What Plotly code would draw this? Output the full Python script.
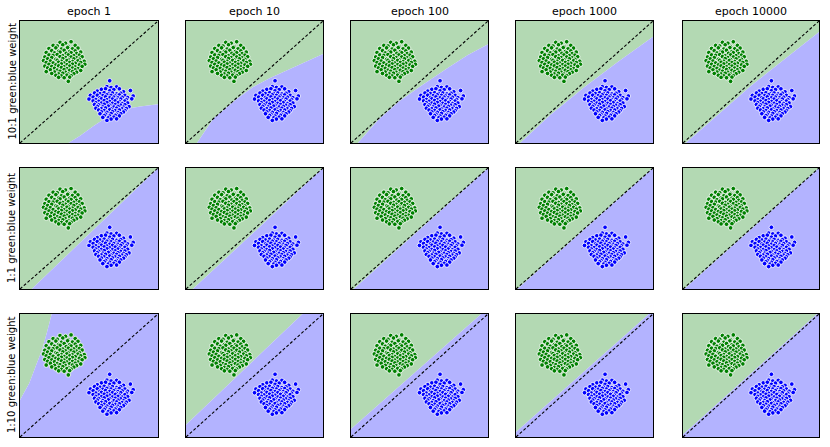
import plotly.graph_objects as go
from plotly.subplots import make_subplots

# ---------------- data ----------------
epochs = ["epoch 1", "epoch 10", "epoch 100", "epoch 1000", "epoch 10000"]
row_labels = ["10:1 green:blue weight", "1:1 green:blue weight", "1:10 green:blue weight"]

green_x = [0.29, 0.33, 0.37,
           0.24, 0.27, 0.31, 0.35, 0.40,
           0.21, 0.26, 0.30, 0.345, 0.38, 0.42,
           0.23, 0.28, 0.32, 0.36, 0.40,
           0.19, 0.25, 0.29, 0.335, 0.37, 0.41, 0.44,
           0.21, 0.24, 0.27, 0.31, 0.35, 0.39, 0.43,
           0.18, 0.23, 0.29, 0.33, 0.37, 0.41, 0.45,
           0.20, 0.26, 0.31, 0.35, 0.39, 0.43,
           0.17, 0.22, 0.27, 0.30, 0.34, 0.38, 0.42, 0.465,
           0.19, 0.24, 0.28, 0.32, 0.36, 0.40, 0.44,
           0.21, 0.26, 0.30, 0.34, 0.38, 0.43, 0.47,
           0.18, 0.23, 0.28, 0.32, 0.36, 0.40, 0.45,
           0.20, 0.25, 0.30, 0.34, 0.38, 0.42,
           0.22, 0.27, 0.32, 0.36, 0.40, 0.44,
           0.19, 0.25, 0.29, 0.33, 0.38, 0.41,
           0.23, 0.28, 0.31, 0.35, 0.39,
           0.26, 0.30, 0.34, 0.37,
           0.28, 0.32, 0.36,
           0.35]
green_y = [0.825, 0.818, 0.83,
           0.80, 0.795, 0.805, 0.79, 0.80,
           0.775, 0.78, 0.77, 0.782, 0.772, 0.778,
           0.757, 0.752, 0.76, 0.75, 0.755,
           0.742, 0.738, 0.745, 0.735, 0.74, 0.733, 0.745,
           0.722, 0.718, 0.725, 0.715, 0.722, 0.716, 0.72,
           0.705, 0.70, 0.708, 0.70, 0.705, 0.698, 0.707,
           0.69, 0.686, 0.692, 0.684, 0.69, 0.686,
           0.675, 0.672, 0.678, 0.67, 0.676, 0.668, 0.674, 0.67,
           0.66, 0.656, 0.662, 0.655, 0.66, 0.654, 0.66,
           0.645, 0.64, 0.648, 0.642, 0.646, 0.64, 0.645,
           0.63, 0.627, 0.632, 0.625, 0.63, 0.624, 0.628,
           0.615, 0.612, 0.618, 0.61, 0.614, 0.61,
           0.60, 0.597, 0.602, 0.596, 0.60, 0.594,
           0.585, 0.582, 0.588, 0.58, 0.585, 0.58,
           0.57, 0.566, 0.572, 0.565, 0.568,
           0.555, 0.55, 0.556, 0.552,
           0.538, 0.535, 0.54,
           0.505]

blue_x = [0.65,
          0.63, 0.66, 0.70,
          0.59, 0.62, 0.68, 0.72,
          0.56, 0.65, 0.75, 0.80,
          0.54, 0.58, 0.61, 0.64, 0.67, 0.70, 0.73,
          0.51, 0.56, 0.60, 0.63, 0.66, 0.69, 0.72, 0.76, 0.82,
          0.53, 0.58, 0.62, 0.65, 0.68, 0.71, 0.74, 0.78,
          0.50, 0.55, 0.59, 0.63, 0.67, 0.70, 0.73, 0.77, 0.81,
          0.53, 0.57, 0.61, 0.65, 0.69, 0.72, 0.76,
          0.55, 0.59, 0.63, 0.67, 0.71, 0.74, 0.78,
          0.54, 0.57, 0.61, 0.65, 0.69, 0.73, 0.76,
          0.56, 0.60, 0.64, 0.68, 0.71, 0.75, 0.79,
          0.55, 0.59, 0.62, 0.66, 0.70, 0.74, 0.77,
          0.57, 0.61, 0.65, 0.69, 0.72, 0.76,
          0.59, 0.63, 0.67, 0.71, 0.75,
          0.58, 0.62, 0.66, 0.70, 0.73,
          0.61, 0.65, 0.69, 0.72,
          0.60, 0.64, 0.68,
          0.66, 0.70,
          0.63]
blue_y = [0.51,
          0.462, 0.455, 0.46,
          0.44, 0.445, 0.438, 0.444,
          0.425, 0.428, 0.42, 0.43,
          0.41, 0.405, 0.412, 0.404, 0.41, 0.402, 0.408,
          0.39, 0.392, 0.388, 0.395, 0.39, 0.386, 0.394, 0.39, 0.385,
          0.376, 0.372, 0.378, 0.37, 0.376, 0.37, 0.375, 0.372,
          0.36, 0.357, 0.362, 0.355, 0.36, 0.354, 0.36, 0.356, 0.362,
          0.345, 0.342, 0.348, 0.34, 0.346, 0.34, 0.344,
          0.33, 0.327, 0.332, 0.325, 0.33, 0.324, 0.328,
          0.315, 0.312, 0.318, 0.31, 0.315, 0.31, 0.314,
          0.30, 0.296, 0.302, 0.295, 0.30, 0.294, 0.298,
          0.285, 0.281, 0.287, 0.28, 0.285, 0.28, 0.283,
          0.27, 0.266, 0.272, 0.265, 0.27, 0.266,
          0.255, 0.251, 0.257, 0.25, 0.254,
          0.24, 0.236, 0.242, 0.235, 0.24,
          0.225, 0.221, 0.227, 0.222,
          0.21, 0.206, 0.212,
          0.196, 0.198,
          0.185]

# decision boundaries (one polyline per panel), rows = weighting, cols = epochs
row1_bx = [[0.351, 0.436, 0.533, 0.654, 0.775, 0.87, 1.0],
           [0.08, 0.2, 0.37, 0.49, 0.61, 0.8, 1.0],
           [0.05, 0.2, 0.35, 0.5, 0.7, 0.85, 1.0],
           [0.03, 0.25, 0.5, 0.75, 1.0],
           [0.02, 0.5, 1.0]]
row1_by = [[0.0, 0.06, 0.14, 0.23, 0.28, 0.30, 0.317],
           [0.0, 0.2, 0.36, 0.46, 0.53, 0.63, 0.73],
           [0.0, 0.19, 0.34, 0.46, 0.61, 0.72, 0.81],
           [0.0, 0.23, 0.46, 0.67, 0.87],
           [0.0, 0.47, 0.91]]
row2_bx = [[0.085, 1.0], [0.05, 1.0], [0.02, 1.0], [0.01, 1.0], [0.01, 1.0]]
row2_by = [[0.0, 1.0], [0.0, 1.0], [0.0, 1.0], [0.0, 1.0], [0.0, 1.0]]
row3_bx = [[0.0, 0.068, 0.115, 0.16, 0.195, 0.23],
           [0.0, 0.85],
           [0.0, 0.95],
           [0.0, 0.97],
           [0.0, 0.985]]
row3_by = [[0.30, 0.44, 0.58, 0.71, 0.85, 1.0],
           [0.1, 1.0],
           [0.065, 1.0],
           [0.04, 1.0],
           [0.02, 1.0]]

boundaries_x = [row1_bx, row2_bx, row3_bx]
boundaries_y = [row1_by, row2_by, row3_by]

# ---------------- figure ----------------
GREEN_BG = "#b3d9b3"
BLUE_BG = "#b3b3ff"
W, H = 830, 447

col_px = [(20, 158), (186, 323), (351, 488), (516, 653), (683, 819)]
row_px = [(21, 143), (168, 289), (314, 437)]

fig = make_subplots(rows=3, cols=5)


def region_polys(bx, by):
    eps = 1e-9
    gx, gy = list(bx), list(by)
    if abs(bx[-1] - 1) < eps and by[-1] < 1 - eps:
        gx.append(1); gy.append(1)
    gx.append(0); gy.append(1)
    if abs(by[0]) < eps and bx[0] > eps:
        gx.append(0); gy.append(0)
    ux, uy = list(bx), list(by)
    if abs(by[-1] - 1) < eps and bx[-1] < 1 - eps:
        ux.append(1); uy.append(1)
    ux.append(1); uy.append(0)
    if abs(bx[0]) < eps and by[0] > eps:
        ux.append(0); uy.append(0)
    return (gx, gy), (ux, uy)


for r in range(3):
    for c in range(5):
        (gx, gy), (ux, uy) = region_polys(boundaries_x[r][c], boundaries_y[r][c])
        fig.add_trace(go.Scatter(x=gx, y=gy, fill="toself", fillcolor=GREEN_BG,
                                 mode="lines", line=dict(width=0), hoverinfo="skip",
                                 showlegend=False), row=r + 1, col=c + 1)
        fig.add_trace(go.Scatter(x=ux, y=uy, fill="toself", fillcolor=BLUE_BG,
                                 mode="lines", line=dict(width=0), hoverinfo="skip",
                                 showlegend=False), row=r + 1, col=c + 1)
        fig.add_trace(go.Scatter(x=[0, 1], y=[0, 1], mode="lines",
                                 line=dict(color="black", width=1.1, dash="3px,2px"),
                                 hoverinfo="skip", showlegend=False), row=r + 1, col=c + 1)
        fig.add_trace(go.Scatter(x=green_x, y=green_y, mode="markers",
                                 marker=dict(color="#008000", size=4.6,
                                             line=dict(color="white", width=0.8)),
                                 showlegend=False), row=r + 1, col=c + 1)
        fig.add_trace(go.Scatter(x=blue_x, y=blue_y, mode="markers",
                                 marker=dict(color="#0000ff", size=4.6,
                                             line=dict(color="white", width=0.8)),
                                 showlegend=False), row=r + 1, col=c + 1)

for r in range(3):
    for c in range(5):
        idx = r * 5 + c + 1
        sfx = "" if idx == 1 else str(idx)
        x0, x1 = col_px[c]
        y0, y1 = row_px[r]
        fig.layout["xaxis" + sfx].update(
            domain=[x0 / W, x1 / W], range=[0, 1], showticklabels=False, ticks="",
            showgrid=False, zeroline=False, showline=True, mirror=True,
            linecolor="black", linewidth=1, fixedrange=True)
        fig.layout["yaxis" + sfx].update(
            domain=[1 - y1 / H, 1 - y0 / H], range=[0, 1], showticklabels=False, ticks="",
            showgrid=False, zeroline=False, showline=True, mirror=True,
            linecolor="black", linewidth=1, fixedrange=True)

annotations = []
for c, t in enumerate(epochs):
    x0, x1 = col_px[c]
    annotations.append(dict(text=t, x=(x0 + x1) / 2 / W, y=1 - 11.5 / H,
                            xref="paper", yref="paper", showarrow=False,
                            font=dict(size=11, color="black"),
                            xanchor="center", yanchor="middle"))
for r, t in enumerate(row_labels):
    y0, y1 = row_px[r]
    annotations.append(dict(text=t, x=11.5 / W, y=1 - (y0 + y1) / 2 / H,
                            xref="paper", yref="paper", showarrow=False, textangle=-90,
                            font=dict(size=10, color="black"),
                            xanchor="center", yanchor="middle"))

fig.update_layout(
    width=W, height=H, margin=dict(l=0, r=0, t=0, b=0),
    paper_bgcolor="white", plot_bgcolor="white",
    font=dict(family="DejaVu Sans", color="black"),
    annotations=annotations, showlegend=False,
)

fig.write_html("out.html", config={"displayModeBar": False},
               post_script="document.body.style.margin='0';document.body.style.overflow='hidden';")
